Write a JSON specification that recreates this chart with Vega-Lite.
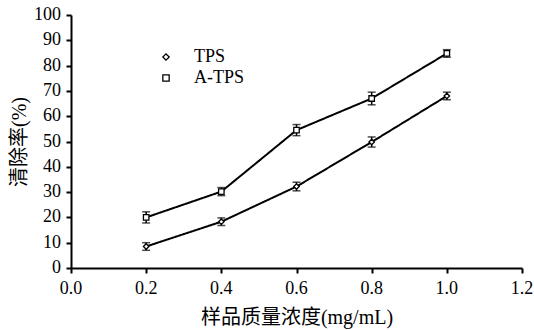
{
  "$schema": "https://vega.github.io/schema/vega-lite/v6.json",
  "width": 451,
  "height": 253,
  "autosize": {"type": "none"},
  "padding": {"left": 71, "top": 15, "right": 12, "bottom": 62},
  "background": "white",
  "config": {
    "view": {"stroke": null},
    "font": "Liberation Serif",
    "legend": {"padding": 0},
    "axis": {
      "labels": false,
      "domainColor": "black",
      "domainWidth": 2,
      "tickColor": "black",
      "tickWidth": 2,
      "tickSize": 5,
      "grid": false,
      "titleFont": "Liberation Serif, Noto Sans CJK SC",
      "titleFontSize": 20,
      "titleFontWeight": "normal",
      "titleColor": "black"
    },
    "axisX": {"tickCount": 6, "titlePadding": 33},
    "axisY": {"tickCount": 10, "titlePadding": 36}
  },
  "datasets": {
    "main": [
      {"series": "TPS", "x": 0.2, "y": 8.5, "lo": 7.0, "hi": 10.0},
      {"series": "TPS", "x": 0.4, "y": 18.3, "lo": 16.8, "hi": 19.8},
      {"series": "TPS", "x": 0.6, "y": 32.2, "lo": 30.5, "hi": 33.9},
      {"series": "TPS", "x": 0.8, "y": 49.8, "lo": 47.8, "hi": 51.8},
      {"series": "TPS", "x": 1.0, "y": 68.0, "lo": 66.5, "hi": 69.5},
      {"series": "A-TPS", "x": 0.2, "y": 20.0, "lo": 17.8, "hi": 22.2},
      {"series": "A-TPS", "x": 0.4, "y": 30.2, "lo": 28.6, "hi": 31.8},
      {"series": "A-TPS", "x": 0.6, "y": 54.5, "lo": 52.3, "hi": 56.7},
      {"series": "A-TPS", "x": 0.8, "y": 67.0, "lo": 64.5, "hi": 69.5},
      {"series": "A-TPS", "x": 1.0, "y": 84.8, "lo": 83.3, "hi": 86.3}
    ],
    "xticks": [{"t": 0}, {"t": 0.2}, {"t": 0.4}, {"t": 0.6}, {"t": 0.8}, {"t": 1.0}, {"t": 1.2}],
    "yticks": [{"t": 0}, {"t": 10}, {"t": 20}, {"t": 30}, {"t": 40}, {"t": 50}, {"t": 60}, {"t": 70}, {"t": 80}, {"t": 90}, {"t": 100}]
  },
  "layer": [
    {
      "data": {"name": "main"},
      "mark": {"type": "line", "color": "black", "strokeWidth": 2},
      "encoding": {
        "x": {
          "field": "x", "type": "quantitative",
          "scale": {"domain": [0, 1.2], "nice": false},
          "axis": {"tickCount": 6, "labels": false, "title": "样品质量浓度(mg/mL)"}
        },
        "y": {
          "field": "y", "type": "quantitative",
          "scale": {"domain": [0, 100], "nice": false},
          "axis": {"tickCount": 10, "labels": false, "title": "清除率(%)"}
        },
        "detail": {"field": "series"},
        "strokeDash": {
          "field": "series", "type": "nominal",
          "scale": {"domain": ["TPS", "A-TPS"], "range": [[1, 0], [1, 0]]},
          "legend": {
            "title": null,
            "orient": "none",
            "legendX": 86,
            "legendY": 33,
            "labelFont": "Liberation Serif",
            "labelFontSize": 18,
            "labelColor": "black",
            "labelOffset": 19,
            "rowPadding": 3,
            "symbolSize": 40,
            "symbolFillColor": "white",
            "symbolStrokeColor": "black",
            "symbolStrokeWidth": 1.3
          }
        }
      }
    },
    {
      "data": {"name": "main"},
      "mark": {"type": "rule", "color": "black", "strokeWidth": 1.5},
      "encoding": {
        "x": {"field": "x", "type": "quantitative"},
        "y": {"field": "lo", "type": "quantitative"},
        "y2": {"field": "hi"}
      }
    },
    {
      "data": {"name": "main"},
      "mark": {"type": "tick", "color": "black", "orient": "horizontal", "size": 8, "thickness": 1.5},
      "encoding": {
        "x": {"field": "x", "type": "quantitative"},
        "y": {"field": "lo", "type": "quantitative"}
      }
    },
    {
      "data": {"name": "main"},
      "mark": {"type": "tick", "color": "black", "orient": "horizontal", "size": 8, "thickness": 1.5},
      "encoding": {
        "x": {"field": "x", "type": "quantitative"},
        "y": {"field": "hi", "type": "quantitative"}
      }
    },
    {
      "data": {"name": "main"},
      "mark": {"type": "point", "filled": true, "fill": "white", "stroke": "black", "strokeWidth": 1.3, "size": 30, "opacity": 1},
      "encoding": {
        "x": {"field": "x", "type": "quantitative"},
        "y": {"field": "y", "type": "quantitative"},
        "shape": {
          "field": "series", "type": "nominal",
          "scale": {"domain": ["TPS", "A-TPS"], "range": ["diamond", "square"]},
          "legend": null
        }
      }
    },
    {
      "data": {"name": "xticks"},
      "mark": {"type": "text", "font": "Liberation Serif", "fontSize": 18, "color": "black", "baseline": "top", "align": "center", "dy": 12},
      "encoding": {
        "x": {"field": "t", "type": "quantitative"},
        "y": {"datum": 0, "type": "quantitative"},
        "text": {"field": "t", "type": "quantitative", "format": ".1f"}
      }
    },
    {
      "data": {"name": "yticks"},
      "mark": {"type": "text", "font": "Liberation Serif", "fontSize": 18, "color": "black", "baseline": "middle", "align": "right", "dx": -10},
      "encoding": {
        "x": {"datum": 0, "type": "quantitative"},
        "y": {"field": "t", "type": "quantitative"},
        "text": {"field": "t", "type": "quantitative", "format": "d"}
      }
    }
  ]
}
